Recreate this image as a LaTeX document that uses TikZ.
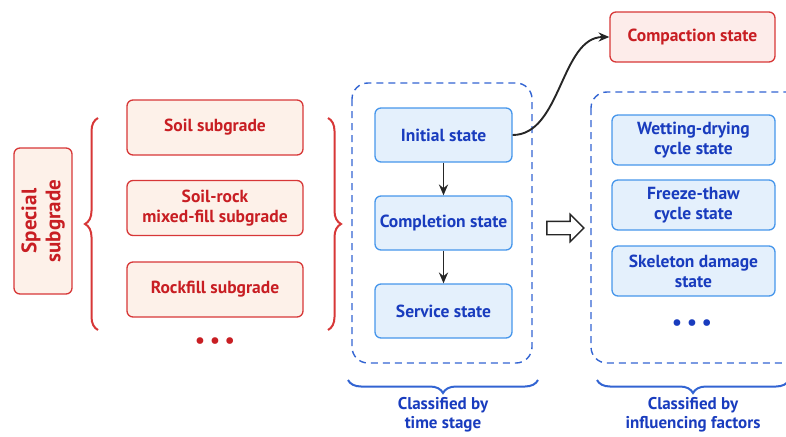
\documentclass[tikz,border=0pt]{standalone}
\usepackage{fontspec}
\setmainfont{PT Sans}
\usetikzlibrary{positioning,arrows.meta,decorations.pathreplacing,shapes.arrows}
\definecolor{redln}{RGB}{215,55,55}
\definecolor{redtx}{RGB}{200,30,35}
\definecolor{redbg}{RGB}{253,241,233}
\definecolor{pinkbg}{RGB}{253,236,234}
\definecolor{bluln}{RGB}{70,150,235}
\definecolor{blubg}{RGB}{228,240,252}
\definecolor{blutx}{RGB}{25,60,190}
\definecolor{dashbl}{RGB}{50,100,210}
\tikzset{
  blk/.style={draw,rounded corners=6pt,align=center,line width=1.3pt,inner sep=2pt,
    font=\bfseries\fontsize{17.5}{20}\selectfont},
  rbox/.style={blk,draw=redln,fill=redbg,text=redtx,minimum width=176pt,minimum height=55pt},
  bbox/.style={blk,draw=bluln,fill=blubg,text=blutx},
  grp/.style={dashbl,dashed,dash pattern=on 7pt off 5pt,line width=1.4pt,rounded corners=16pt},
  brc/.style={decorate,decoration={brace,amplitude=13pt},line width=2pt},
  lab/.style={align=center,text=blutx,font=\bfseries\fontsize{17}{19}\selectfont},
  dots/.style={font=\fontsize{24}{24}\selectfont},
  ar/.style={-{Stealth[length=3.8mm,width=3.2mm]},line width=1.9pt,black!85},
}
\begin{document}
\begin{tikzpicture}[x=1pt,y=-1pt]
  \useasboundingbox (0,0) rectangle (786,436);
  % special subgrade and its classes
  \node[blk,draw=redln,fill=redbg,text=redtx,minimum width=146pt,minimum height=58pt,
    rotate=90,font=\bfseries\fontsize{21}{24}\selectfont] (spec) at (43,221) {Special\\subgrade};
  \node[rbox] (soil) at (215,127.5) {Soil subgrade};
  \node[rbox] (mix) at (215,208) {Soil-rock\\mixed-fill subgrade};
  \node[rbox] (rock) at (215,289.5) {Rockfill subgrade};
  \node[dots,text=redtx] (rdots) at (215,343) {\textbullet\,\textbullet\,\textbullet};
  \draw[brc,redln] (98,330) -- (98,118);
  \draw[brc,redln] (328,118) -- (328,330);
  % time stage
  \draw[grp] (352,83) rectangle (532,363);
  \node[bbox,minimum width=137pt,minimum height=54pt] (init) at (443.5,135) {Initial state};
  \node[bbox,minimum width=137pt,minimum height=54pt] (compl) at (443.5,223) {Completion state};
  \node[bbox,minimum width=137pt,minimum height=54pt] (serv) at (443.5,311) {Service state};
  \draw[ar] (init) -- (compl);
  \draw[ar] (compl) -- (serv);
  \node[blk,draw=redln,fill=pinkbg,text=redtx,minimum width=165pt,minimum height=50pt]
    (comp) at (692.5,37) {Compaction state};
  \draw[ar] (init.east) to[out=0,in=180,looseness=0.9] (comp.west);
  \draw[brc,dashbl] (538,380) -- (348,380);
  \node[lab] (tlab) at (443,415) {Classified by\\time stage};
  % influencing factors
  \node[single arrow,draw=black!85,fill=white,line width=1.4pt,inner sep=6pt,
    minimum height=37pt,single arrow head extend=7pt] (hol) at (562,228) {};
  \draw[grp] (591,92) rectangle (810,363);
  \node[bbox,minimum width=163pt,minimum height=50pt] (wet) at (693.5,140) {Wetting-drying\\cycle state};
  \node[bbox,minimum width=163pt,minimum height=50pt] (frz) at (693.5,205) {Freeze-thaw\\cycle state};
  \node[bbox,minimum width=163pt,minimum height=50pt] (skel) at (693.5,271) {Skeleton damage\\state};
  \node[dots,text=blutx] (bdots) at (692,325) {\textbullet\,\textbullet\,\textbullet};
  \draw[brc,dashbl] (789,380) -- (597,380);
  \node[lab] (flab) at (693,415) {Classified by\\influencing factors};
\end{tikzpicture}
\end{document}
